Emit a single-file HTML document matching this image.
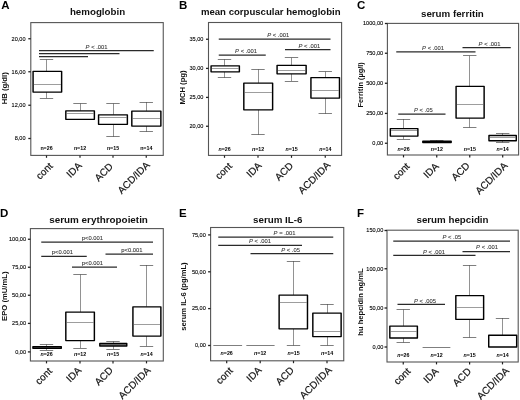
<!DOCTYPE html>
<html lang="en"><head><meta charset="utf-8"><title>Figure</title>
<style>
html,body{margin:0;padding:0;background:#fff;}
body{width:520px;height:400px;overflow:hidden;}
svg{display:block;font-family:'Liberation Sans', Arial, Helvetica, sans-serif;}
</style></head><body>
<svg width="520" height="400" viewBox="0 0 520 400" font-family="'Liberation Sans', Arial, Helvetica, sans-serif" style="filter:blur(0.3px)">
<rect x="0" y="0" width="520" height="400" fill="#fff"/>
<rect x="30.8" y="22.6" width="132.45" height="132.80" fill="none" stroke="#555" stroke-width="1.1"/>
<text x="1.2" y="8.9" font-size="11.5" font-weight="700" fill="#000">A</text>
<text x="97.5" y="14.5" font-size="9.75" font-weight="700" fill="#111" text-anchor="middle">hemoglobin</text>
<text transform="translate(7.4,88.3) rotate(-90)" font-size="7.7" font-weight="700" fill="#111" text-anchor="middle">HB (g/dl)</text>
<line x1="28.3" y1="38.75" x2="30.8" y2="38.75" stroke="#222" stroke-width="1.3"/>
<text x="25.50" y="40.55" font-size="5.55" fill="#000" stroke="#000" stroke-width="0.1" text-anchor="end">20,00</text>
<line x1="28.3" y1="71.75" x2="30.8" y2="71.75" stroke="#222" stroke-width="1.3"/>
<text x="25.50" y="73.55" font-size="5.55" fill="#000" stroke="#000" stroke-width="0.1" text-anchor="end">16,00</text>
<line x1="28.3" y1="105.25" x2="30.8" y2="105.25" stroke="#222" stroke-width="1.3"/>
<text x="25.50" y="107.05" font-size="5.55" fill="#000" stroke="#000" stroke-width="0.1" text-anchor="end">12,00</text>
<line x1="28.3" y1="138.5" x2="30.8" y2="138.5" stroke="#222" stroke-width="1.3"/>
<text x="25.50" y="140.30" font-size="5.55" fill="#000" stroke="#000" stroke-width="0.1" text-anchor="end">8,00</text>
<line x1="46.5" y1="155.4" x2="46.5" y2="157.8" stroke="#222" stroke-width="1.2"/>
<text transform="translate(53.40,166.70) rotate(-45)" font-size="10" fill="#111" stroke="#111" stroke-width="0.18" text-anchor="end">cont</text>
<line x1="80" y1="155.4" x2="80" y2="157.8" stroke="#222" stroke-width="1.2"/>
<text transform="translate(82.40,166.40) rotate(-45)" font-size="10" fill="#111" stroke="#111" stroke-width="0.18" text-anchor="end">IDA</text>
<line x1="113" y1="155.4" x2="113" y2="157.8" stroke="#222" stroke-width="1.2"/>
<text transform="translate(113.70,167.10) rotate(-45)" font-size="10" fill="#111" stroke="#111" stroke-width="0.18" text-anchor="end">ACD</text>
<line x1="146.25" y1="155.4" x2="146.25" y2="157.8" stroke="#222" stroke-width="1.2"/>
<text transform="translate(150.40,165.70) rotate(-45)" font-size="10" fill="#111" stroke="#111" stroke-width="0.18" text-anchor="end">ACD/IDA</text>
<text x="46.5" y="149.80" font-size="5.3" font-weight="700" fill="#000" text-anchor="middle">n=26</text>
<text x="80" y="149.80" font-size="5.3" font-weight="700" fill="#000" text-anchor="middle">n=12</text>
<text x="113" y="149.80" font-size="5.3" font-weight="700" fill="#000" text-anchor="middle">n=15</text>
<text x="146.25" y="149.80" font-size="5.3" font-weight="700" fill="#000" text-anchor="middle">n=14</text>
<line x1="46.5" y1="59.5" x2="46.5" y2="71.25" stroke="#484848" stroke-width="0.6"/>
<line x1="39.80" y1="59.5" x2="53.20" y2="59.5" stroke="#484848" stroke-width="0.7"/>
<line x1="46.5" y1="92" x2="46.5" y2="98.25" stroke="#484848" stroke-width="0.6"/>
<line x1="39.80" y1="98.5" x2="53.20" y2="98.5" stroke="#484848" stroke-width="0.7"/>
<rect x="33.08" y="71.35" width="28.55" height="20.75" fill="#fff" stroke="#000" stroke-width="1.45" stroke-linejoin="round"/>
<line x1="33.80" y1="84.5" x2="60.90" y2="84.5" stroke="#5a5a5a" stroke-width="0.6"/>
<line x1="80.5" y1="103.5" x2="80.5" y2="110.75" stroke="#484848" stroke-width="0.6"/>
<line x1="73.30" y1="103.5" x2="86.70" y2="103.5" stroke="#484848" stroke-width="0.7"/>
<rect x="65.82" y="110.85" width="28.55" height="8.50" fill="#fff" stroke="#000" stroke-width="1.45" stroke-linejoin="round"/>
<line x1="66.55" y1="113.5" x2="93.65" y2="113.5" stroke="#5a5a5a" stroke-width="0.6"/>
<line x1="113.5" y1="103.5" x2="113.5" y2="114.75" stroke="#484848" stroke-width="0.6"/>
<line x1="106.30" y1="103.5" x2="119.70" y2="103.5" stroke="#484848" stroke-width="0.7"/>
<line x1="113.5" y1="124.25" x2="113.5" y2="136.75" stroke="#484848" stroke-width="0.6"/>
<line x1="106.30" y1="136.5" x2="119.70" y2="136.5" stroke="#484848" stroke-width="0.7"/>
<rect x="98.57" y="114.85" width="28.80" height="9.50" fill="#fff" stroke="#000" stroke-width="1.45" stroke-linejoin="round"/>
<line x1="99.30" y1="117.5" x2="126.65" y2="117.5" stroke="#5a5a5a" stroke-width="0.6"/>
<line x1="146.5" y1="102" x2="146.5" y2="111" stroke="#484848" stroke-width="0.6"/>
<line x1="139.55" y1="102.5" x2="152.95" y2="102.5" stroke="#484848" stroke-width="0.7"/>
<line x1="146.5" y1="126" x2="146.5" y2="131.75" stroke="#484848" stroke-width="0.6"/>
<line x1="139.55" y1="131.5" x2="152.95" y2="131.5" stroke="#484848" stroke-width="0.7"/>
<rect x="131.82" y="111.10" width="29.05" height="15.00" fill="#fff" stroke="#000" stroke-width="1.45" stroke-linejoin="round"/>
<line x1="132.55" y1="118.5" x2="160.15" y2="118.5" stroke="#5a5a5a" stroke-width="0.6"/>
<line x1="39" y1="50.7" x2="153.75" y2="50.7" stroke="#2a2a2a" stroke-width="1.25"/>
<line x1="39" y1="53.6" x2="119.5" y2="53.6" stroke="#2a2a2a" stroke-width="1.25"/>
<line x1="39" y1="56.5" x2="88" y2="56.5" stroke="#2a2a2a" stroke-width="1.25"/>
<text x="96.6" y="49.40" font-size="5.85" fill="#333" stroke="#333" stroke-width="0.08" text-anchor="middle" style="white-space:pre"><tspan font-style="italic">P</tspan> &lt; .001</text>
<rect x="208.5" y="22.5" width="133.10" height="132.90" fill="none" stroke="#555" stroke-width="1.1"/>
<text x="179.05" y="8.8" font-size="11.5" font-weight="700" fill="#000">B</text>
<text x="270.75" y="14.5" font-size="9.6" font-weight="700" fill="#111" text-anchor="middle">mean corpuscular hemoglobin</text>
<text transform="translate(185.0,87.45) rotate(-90)" font-size="7.7" font-weight="700" fill="#111" text-anchor="middle">MCH (pg)</text>
<line x1="206.0" y1="39.25" x2="208.5" y2="39.25" stroke="#222" stroke-width="1.3"/>
<text x="203.40" y="41.05" font-size="5.55" fill="#000" stroke="#000" stroke-width="0.1" text-anchor="end">35,00</text>
<line x1="206.0" y1="68.4" x2="208.5" y2="68.4" stroke="#222" stroke-width="1.3"/>
<text x="203.40" y="70.20" font-size="5.55" fill="#000" stroke="#000" stroke-width="0.1" text-anchor="end">30,00</text>
<line x1="206.0" y1="97.4" x2="208.5" y2="97.4" stroke="#222" stroke-width="1.3"/>
<text x="203.40" y="99.20" font-size="5.55" fill="#000" stroke="#000" stroke-width="0.1" text-anchor="end">25,00</text>
<line x1="206.0" y1="126.25" x2="208.5" y2="126.25" stroke="#222" stroke-width="1.3"/>
<text x="203.40" y="128.05" font-size="5.55" fill="#000" stroke="#000" stroke-width="0.1" text-anchor="end">20,00</text>
<line x1="224.5" y1="155.4" x2="224.5" y2="157.8" stroke="#222" stroke-width="1.2"/>
<text transform="translate(232.60,166.75) rotate(-45)" font-size="10" fill="#111" stroke="#111" stroke-width="0.18" text-anchor="end">cont</text>
<line x1="258" y1="155.4" x2="258" y2="157.8" stroke="#222" stroke-width="1.2"/>
<text transform="translate(262.25,166.30) rotate(-45)" font-size="10" fill="#111" stroke="#111" stroke-width="0.18" text-anchor="end">IDA</text>
<line x1="291.5" y1="155.4" x2="291.5" y2="157.8" stroke="#222" stroke-width="1.2"/>
<text transform="translate(293.90,166.30) rotate(-45)" font-size="10" fill="#111" stroke="#111" stroke-width="0.18" text-anchor="end">ACD</text>
<line x1="325.25" y1="155.4" x2="325.25" y2="157.8" stroke="#222" stroke-width="1.2"/>
<text transform="translate(331.05,165.90) rotate(-45)" font-size="10" fill="#111" stroke="#111" stroke-width="0.18" text-anchor="end">ACD/IDA</text>
<text x="224.5" y="150.50" font-size="5.3" font-weight="700" fill="#000" text-anchor="middle"><tspan font-style="italic">n</tspan>=26</text>
<text x="258" y="150.50" font-size="5.3" font-weight="700" fill="#000" text-anchor="middle"><tspan font-style="italic">n</tspan>=12</text>
<text x="291.5" y="150.50" font-size="5.3" font-weight="700" fill="#000" text-anchor="middle"><tspan font-style="italic">n</tspan>=15</text>
<text x="325.25" y="150.50" font-size="5.3" font-weight="700" fill="#000" text-anchor="middle"><tspan font-style="italic">n</tspan>=14</text>
<line x1="224.5" y1="59.25" x2="224.5" y2="65.75" stroke="#484848" stroke-width="0.6"/>
<line x1="217.80" y1="59.5" x2="231.20" y2="59.5" stroke="#484848" stroke-width="0.7"/>
<line x1="224.5" y1="71.75" x2="224.5" y2="77.75" stroke="#484848" stroke-width="0.6"/>
<line x1="217.80" y1="77.5" x2="231.20" y2="77.5" stroke="#484848" stroke-width="0.7"/>
<rect x="211.07" y="65.85" width="28.30" height="6.00" fill="#fff" stroke="#000" stroke-width="1.45" stroke-linejoin="round"/>
<line x1="211.80" y1="68.5" x2="238.65" y2="68.5" stroke="#5a5a5a" stroke-width="0.6"/>
<line x1="258.5" y1="69.25" x2="258.5" y2="83" stroke="#484848" stroke-width="0.6"/>
<line x1="251.30" y1="69.5" x2="264.70" y2="69.5" stroke="#484848" stroke-width="0.7"/>
<line x1="258.5" y1="109.75" x2="258.5" y2="134.75" stroke="#484848" stroke-width="0.6"/>
<line x1="251.30" y1="134.5" x2="264.70" y2="134.5" stroke="#484848" stroke-width="0.7"/>
<rect x="243.82" y="83.10" width="28.80" height="26.75" fill="#fff" stroke="#000" stroke-width="1.45" stroke-linejoin="round"/>
<line x1="244.55" y1="92.5" x2="271.90" y2="92.5" stroke="#5a5a5a" stroke-width="0.6"/>
<line x1="291.5" y1="57.75" x2="291.5" y2="65.25" stroke="#484848" stroke-width="0.6"/>
<line x1="284.80" y1="57.5" x2="298.20" y2="57.5" stroke="#484848" stroke-width="0.7"/>
<line x1="291.5" y1="73.75" x2="291.5" y2="81" stroke="#484848" stroke-width="0.6"/>
<line x1="284.80" y1="81.5" x2="298.20" y2="81.5" stroke="#484848" stroke-width="0.7"/>
<rect x="277.08" y="65.35" width="29.05" height="8.50" fill="#fff" stroke="#000" stroke-width="1.45" stroke-linejoin="round"/>
<line x1="277.80" y1="70.5" x2="305.40" y2="70.5" stroke="#5a5a5a" stroke-width="0.6"/>
<line x1="325.5" y1="71.6" x2="325.5" y2="77.5" stroke="#484848" stroke-width="0.6"/>
<line x1="318.55" y1="71.5" x2="331.95" y2="71.5" stroke="#484848" stroke-width="0.7"/>
<line x1="325.5" y1="98" x2="325.5" y2="113.75" stroke="#484848" stroke-width="0.6"/>
<line x1="318.55" y1="113.5" x2="331.95" y2="113.5" stroke="#484848" stroke-width="0.7"/>
<rect x="310.93" y="77.60" width="28.55" height="20.50" fill="#fff" stroke="#000" stroke-width="1.45" stroke-linejoin="round"/>
<line x1="311.65" y1="90.5" x2="338.75" y2="90.5" stroke="#5a5a5a" stroke-width="0.6"/>
<line x1="218.75" y1="39" x2="330.5" y2="39" stroke="#2a2a2a" stroke-width="1.25"/>
<line x1="218.75" y1="55" x2="265.75" y2="55" stroke="#2a2a2a" stroke-width="1.25"/>
<line x1="285" y1="49.5" x2="330.5" y2="49.5" stroke="#2a2a2a" stroke-width="1.25"/>
<text x="278.25" y="37.15" font-size="5.85" fill="#333" stroke="#333" stroke-width="0.08" text-anchor="middle" style="white-space:pre"><tspan font-style="italic">P</tspan> &lt; .001</text>
<text x="246.1" y="53.40" font-size="5.85" fill="#333" stroke="#333" stroke-width="0.08" text-anchor="middle" style="white-space:pre"><tspan font-style="italic">P</tspan> &lt; .001</text>
<text x="309.4" y="47.90" font-size="5.85" fill="#333" stroke="#333" stroke-width="0.08" text-anchor="middle" style="white-space:pre"><tspan font-style="italic">P</tspan> &lt; .001</text>
<rect x="387.4" y="23.4" width="131.20" height="131.60" fill="none" stroke="#555" stroke-width="1.1"/>
<text x="357.0" y="9.0" font-size="11.5" font-weight="700" fill="#000">C</text>
<text x="452.4" y="16.6" font-size="9.75" font-weight="700" fill="#111" text-anchor="middle">serum ferritin</text>
<text transform="translate(362.9,84.85) rotate(-90)" font-size="7.4" font-weight="700" fill="#111" text-anchor="middle">Ferritin (µg/l)</text>
<line x1="384.9" y1="23.5" x2="387.4" y2="23.5" stroke="#222" stroke-width="1.3"/>
<text x="383.10" y="25.30" font-size="5.55" fill="#000" stroke="#000" stroke-width="0.1" text-anchor="end">1000,00</text>
<line x1="384.9" y1="53.25" x2="387.4" y2="53.25" stroke="#222" stroke-width="1.3"/>
<text x="383.10" y="55.05" font-size="5.55" fill="#000" stroke="#000" stroke-width="0.1" text-anchor="end">750,00</text>
<line x1="384.9" y1="83.25" x2="387.4" y2="83.25" stroke="#222" stroke-width="1.3"/>
<text x="383.10" y="85.05" font-size="5.55" fill="#000" stroke="#000" stroke-width="0.1" text-anchor="end">500,00</text>
<line x1="384.9" y1="113.4" x2="387.4" y2="113.4" stroke="#222" stroke-width="1.3"/>
<text x="383.10" y="115.20" font-size="5.55" fill="#000" stroke="#000" stroke-width="0.1" text-anchor="end">250,00</text>
<line x1="384.9" y1="143.25" x2="387.4" y2="143.25" stroke="#222" stroke-width="1.3"/>
<text x="383.10" y="145.05" font-size="5.55" fill="#000" stroke="#000" stroke-width="0.1" text-anchor="end">0,00</text>
<line x1="403.5" y1="155" x2="403.5" y2="157.4" stroke="#222" stroke-width="1.2"/>
<text transform="translate(410.30,166.95) rotate(-45)" font-size="10" fill="#111" stroke="#111" stroke-width="0.18" text-anchor="end">cont</text>
<line x1="436.75" y1="155" x2="436.75" y2="157.4" stroke="#222" stroke-width="1.2"/>
<text transform="translate(439.35,166.95) rotate(-45)" font-size="10" fill="#111" stroke="#111" stroke-width="0.18" text-anchor="end">IDA</text>
<line x1="469.75" y1="155" x2="469.75" y2="157.4" stroke="#222" stroke-width="1.2"/>
<text transform="translate(470.35,166.40) rotate(-45)" font-size="10" fill="#111" stroke="#111" stroke-width="0.18" text-anchor="end">ACD</text>
<line x1="502.7" y1="155" x2="502.7" y2="157.4" stroke="#222" stroke-width="1.2"/>
<text transform="translate(508.10,166.40) rotate(-45)" font-size="10" fill="#111" stroke="#111" stroke-width="0.18" text-anchor="end">ACD/IDA</text>
<text x="403.5" y="150.55" font-size="5.3" font-weight="700" fill="#000" text-anchor="middle"><tspan font-style="italic">n</tspan>=26</text>
<text x="436.75" y="150.55" font-size="5.3" font-weight="700" fill="#000" text-anchor="middle"><tspan font-style="italic">n</tspan>=12</text>
<text x="469.75" y="150.55" font-size="5.3" font-weight="700" fill="#000" text-anchor="middle"><tspan font-style="italic">n</tspan>=15</text>
<text x="502.7" y="150.55" font-size="5.3" font-weight="700" fill="#000" text-anchor="middle"><tspan font-style="italic">n</tspan>=14</text>
<line x1="403.5" y1="119" x2="403.5" y2="128.5" stroke="#484848" stroke-width="0.6"/>
<line x1="396.80" y1="119.5" x2="410.20" y2="119.5" stroke="#484848" stroke-width="0.7"/>
<line x1="403.5" y1="136" x2="403.5" y2="139.25" stroke="#484848" stroke-width="0.6"/>
<line x1="396.80" y1="139.5" x2="410.20" y2="139.5" stroke="#484848" stroke-width="0.7"/>
<rect x="390.33" y="128.60" width="27.55" height="7.50" fill="#fff" stroke="#000" stroke-width="1.45" stroke-linejoin="round"/>
<line x1="391.05" y1="130.5" x2="417.15" y2="130.5" stroke="#5a5a5a" stroke-width="0.6"/>
<line x1="436.5" y1="140.25" x2="436.5" y2="141.2" stroke="#484848" stroke-width="0.6"/>
<line x1="430.05" y1="140.5" x2="443.45" y2="140.5" stroke="#484848" stroke-width="0.7"/>
<rect x="422.83" y="141.30" width="28.30" height="1.20" fill="#9a9a9a" stroke="#000" stroke-width="1.45" stroke-linejoin="round"/>
<line x1="469.5" y1="55.75" x2="469.5" y2="86.25" stroke="#484848" stroke-width="0.6"/>
<line x1="463.05" y1="55.5" x2="476.45" y2="55.5" stroke="#484848" stroke-width="0.7"/>
<line x1="469.5" y1="118" x2="469.5" y2="127.5" stroke="#484848" stroke-width="0.6"/>
<line x1="463.05" y1="127.5" x2="476.45" y2="127.5" stroke="#484848" stroke-width="0.7"/>
<rect x="456.08" y="86.35" width="28.05" height="31.75" fill="#fff" stroke="#000" stroke-width="1.45" stroke-linejoin="round"/>
<line x1="456.80" y1="104.5" x2="483.40" y2="104.5" stroke="#5a5a5a" stroke-width="0.6"/>
<line x1="502.5" y1="133.2" x2="502.5" y2="135.3" stroke="#484848" stroke-width="0.6"/>
<line x1="496.00" y1="133.5" x2="509.40" y2="133.5" stroke="#484848" stroke-width="0.7"/>
<line x1="502.5" y1="140.7" x2="502.5" y2="142.4" stroke="#484848" stroke-width="0.6"/>
<line x1="496.00" y1="142.5" x2="509.40" y2="142.5" stroke="#484848" stroke-width="0.7"/>
<rect x="488.98" y="135.40" width="27.30" height="5.40" fill="#fff" stroke="#000" stroke-width="1.45" stroke-linejoin="round"/>
<line x1="489.70" y1="137.5" x2="515.55" y2="137.5" stroke="#5a5a5a" stroke-width="0.6"/>
<line x1="396.25" y1="51.75" x2="475.5" y2="51.75" stroke="#2a2a2a" stroke-width="1.25"/>
<line x1="462.5" y1="47.5" x2="510.75" y2="47.5" stroke="#2a2a2a" stroke-width="1.25"/>
<line x1="398.25" y1="114" x2="445.5" y2="114" stroke="#2a2a2a" stroke-width="1.25"/>
<text x="433.1" y="50.15" font-size="5.85" fill="#333" stroke="#333" stroke-width="0.08" text-anchor="middle" style="white-space:pre"><tspan font-style="italic">P</tspan> &lt; .001</text>
<text x="489.6" y="45.90" font-size="5.85" fill="#333" stroke="#333" stroke-width="0.08" text-anchor="middle" style="white-space:pre"><tspan font-style="italic">P</tspan> &lt; .001</text>
<text x="423.4" y="112.15" font-size="5.85" fill="#333" stroke="#333" stroke-width="0.08" text-anchor="middle" style="white-space:pre"><tspan font-style="italic">P</tspan> &lt; .05</text>
<rect x="30.4" y="228.6" width="132.90" height="132.40" fill="none" stroke="#555" stroke-width="1.1"/>
<text x="0.1" y="216.5" font-size="11.5" font-weight="700" fill="#000">D</text>
<text x="98.6" y="222.5" font-size="9.87" font-weight="700" fill="#111" text-anchor="middle">serum erythropoietin</text>
<text transform="translate(7.4,296.2) rotate(-90)" font-size="7.7" font-weight="700" fill="#111" text-anchor="middle">EPO (mU/mL)</text>
<line x1="27.9" y1="239.25" x2="30.4" y2="239.25" stroke="#222" stroke-width="1.3"/>
<text x="26.00" y="241.05" font-size="5.55" fill="#000" stroke="#000" stroke-width="0.1" text-anchor="end">100,00</text>
<line x1="27.9" y1="267.25" x2="30.4" y2="267.25" stroke="#222" stroke-width="1.3"/>
<text x="26.00" y="269.05" font-size="5.55" fill="#000" stroke="#000" stroke-width="0.1" text-anchor="end">75,00</text>
<line x1="27.9" y1="295.25" x2="30.4" y2="295.25" stroke="#222" stroke-width="1.3"/>
<text x="26.00" y="297.05" font-size="5.55" fill="#000" stroke="#000" stroke-width="0.1" text-anchor="end">50,00</text>
<line x1="27.9" y1="323.4" x2="30.4" y2="323.4" stroke="#222" stroke-width="1.3"/>
<text x="26.00" y="325.20" font-size="5.55" fill="#000" stroke="#000" stroke-width="0.1" text-anchor="end">25,00</text>
<line x1="27.9" y1="351.9" x2="30.4" y2="351.9" stroke="#222" stroke-width="1.3"/>
<text x="26.00" y="353.70" font-size="5.55" fill="#000" stroke="#000" stroke-width="0.1" text-anchor="end">0,00</text>
<line x1="46.5" y1="361" x2="46.5" y2="363.4" stroke="#222" stroke-width="1.2"/>
<text transform="translate(52.70,371.80) rotate(-45)" font-size="10" fill="#111" stroke="#111" stroke-width="0.18" text-anchor="end">cont</text>
<line x1="80" y1="361" x2="80" y2="363.4" stroke="#222" stroke-width="1.2"/>
<text transform="translate(82.00,371.00) rotate(-45)" font-size="10" fill="#111" stroke="#111" stroke-width="0.18" text-anchor="end">IDA</text>
<line x1="113" y1="361" x2="113" y2="363.4" stroke="#222" stroke-width="1.2"/>
<text transform="translate(113.60,371.00) rotate(-45)" font-size="10" fill="#111" stroke="#111" stroke-width="0.18" text-anchor="end">ACD</text>
<line x1="146.5" y1="361" x2="146.5" y2="363.4" stroke="#222" stroke-width="1.2"/>
<text transform="translate(151.30,371.00) rotate(-45)" font-size="10" fill="#111" stroke="#111" stroke-width="0.18" text-anchor="end">ACD/IDA</text>
<text x="46.5" y="356.00" font-size="5.3" font-weight="700" fill="#000" text-anchor="middle"><tspan font-style="italic">n</tspan>=26</text>
<text x="80" y="356.00" font-size="5.3" font-weight="700" fill="#000" text-anchor="middle"><tspan font-style="italic">n</tspan>=12</text>
<text x="113" y="356.00" font-size="5.3" font-weight="700" fill="#000" text-anchor="middle"><tspan font-style="italic">n</tspan>=15</text>
<text x="146.5" y="356.00" font-size="5.3" font-weight="700" fill="#000" text-anchor="middle"><tspan font-style="italic">n</tspan>=14</text>
<line x1="46.5" y1="344.3" x2="46.5" y2="346.5" stroke="#484848" stroke-width="0.6"/>
<line x1="39.80" y1="344.5" x2="53.20" y2="344.5" stroke="#484848" stroke-width="0.7"/>
<line x1="46.5" y1="348.2" x2="46.5" y2="350.1" stroke="#484848" stroke-width="0.6"/>
<line x1="39.80" y1="350.5" x2="53.20" y2="350.5" stroke="#484848" stroke-width="0.7"/>
<rect x="32.93" y="346.60" width="28.35" height="1.70" fill="#9a9a9a" stroke="#000" stroke-width="1.45" stroke-linejoin="round"/>
<line x1="80.5" y1="274.5" x2="80.5" y2="312" stroke="#484848" stroke-width="0.6"/>
<line x1="73.30" y1="274.5" x2="86.70" y2="274.5" stroke="#484848" stroke-width="0.7"/>
<line x1="80.5" y1="340.5" x2="80.5" y2="348" stroke="#484848" stroke-width="0.6"/>
<line x1="73.30" y1="348.5" x2="86.70" y2="348.5" stroke="#484848" stroke-width="0.7"/>
<rect x="65.82" y="312.10" width="28.55" height="28.50" fill="#fff" stroke="#000" stroke-width="1.45" stroke-linejoin="round"/>
<line x1="66.55" y1="322.5" x2="93.65" y2="322.5" stroke="#5a5a5a" stroke-width="0.6"/>
<line x1="113.5" y1="341.3" x2="113.5" y2="343.4" stroke="#484848" stroke-width="0.6"/>
<line x1="106.30" y1="341.5" x2="119.70" y2="341.5" stroke="#484848" stroke-width="0.7"/>
<line x1="113.5" y1="345.8" x2="113.5" y2="349.2" stroke="#484848" stroke-width="0.6"/>
<line x1="106.30" y1="349.5" x2="119.70" y2="349.5" stroke="#484848" stroke-width="0.7"/>
<rect x="99.82" y="343.50" width="26.95" height="2.40" fill="#9a9a9a" stroke="#000" stroke-width="1.45" stroke-linejoin="round"/>
<line x1="100.55" y1="344.5" x2="126.05" y2="344.5" stroke="#5a5a5a" stroke-width="0.6"/>
<line x1="146.5" y1="265" x2="146.5" y2="306.75" stroke="#484848" stroke-width="0.6"/>
<line x1="139.80" y1="265.5" x2="153.20" y2="265.5" stroke="#484848" stroke-width="0.7"/>
<line x1="146.5" y1="336" x2="146.5" y2="346.25" stroke="#484848" stroke-width="0.6"/>
<line x1="139.80" y1="346.5" x2="153.20" y2="346.5" stroke="#484848" stroke-width="0.7"/>
<rect x="132.92" y="306.85" width="27.95" height="29.25" fill="#fff" stroke="#000" stroke-width="1.45" stroke-linejoin="round"/>
<line x1="133.65" y1="324.5" x2="160.15" y2="324.5" stroke="#5a5a5a" stroke-width="0.6"/>
<line x1="41.25" y1="242.0" x2="153" y2="242.0" stroke="#2a2a2a" stroke-width="1.25"/>
<line x1="41.25" y1="256.25" x2="86.75" y2="256.25" stroke="#2a2a2a" stroke-width="1.25"/>
<line x1="72" y1="267" x2="117" y2="267" stroke="#2a2a2a" stroke-width="1.25"/>
<line x1="105.5" y1="254" x2="153" y2="254" stroke="#2a2a2a" stroke-width="1.25"/>
<text x="92.4" y="239.90" font-size="5.85" fill="#333" stroke="#333" stroke-width="0.08" text-anchor="middle" style="white-space:pre">p&lt;0.001</text>
<text x="62.4" y="254.15" font-size="5.85" fill="#333" stroke="#333" stroke-width="0.08" text-anchor="middle" style="white-space:pre">p&lt;0.001</text>
<text x="92.4" y="264.90" font-size="5.85" fill="#333" stroke="#333" stroke-width="0.08" text-anchor="middle" style="white-space:pre">p&lt;0.001</text>
<text x="131.9" y="252.40" font-size="5.85" fill="#333" stroke="#333" stroke-width="0.08" text-anchor="middle" style="white-space:pre">p&lt;0.001</text>
<rect x="210.6" y="227.5" width="133.15" height="133.30" fill="none" stroke="#555" stroke-width="1.1"/>
<text x="179.05" y="216.6" font-size="11.5" font-weight="700" fill="#000">E</text>
<text x="277.75" y="222.5" font-size="9.75" font-weight="700" fill="#111" text-anchor="middle">serum IL-6</text>
<text transform="translate(185.8,296.6) rotate(-90)" font-size="7.6" font-weight="700" fill="#111" text-anchor="middle">serum IL-6 (pg/mL)</text>
<line x1="208.1" y1="234.9" x2="210.6" y2="234.9" stroke="#222" stroke-width="1.3"/>
<text x="205.80" y="236.70" font-size="5.55" fill="#000" stroke="#000" stroke-width="0.1" text-anchor="end">75,00</text>
<line x1="208.1" y1="271.8" x2="210.6" y2="271.8" stroke="#222" stroke-width="1.3"/>
<text x="205.80" y="273.60" font-size="5.55" fill="#000" stroke="#000" stroke-width="0.1" text-anchor="end">50,00</text>
<line x1="208.1" y1="308.6" x2="210.6" y2="308.6" stroke="#222" stroke-width="1.3"/>
<text x="205.80" y="310.40" font-size="5.55" fill="#000" stroke="#000" stroke-width="0.1" text-anchor="end">25,00</text>
<line x1="208.1" y1="345.5" x2="210.6" y2="345.5" stroke="#222" stroke-width="1.3"/>
<text x="205.80" y="347.30" font-size="5.55" fill="#000" stroke="#000" stroke-width="0.1" text-anchor="end">0,00</text>
<line x1="226.7" y1="360.8" x2="226.7" y2="363.2" stroke="#222" stroke-width="1.2"/>
<text transform="translate(233.40,371.40) rotate(-45)" font-size="10" fill="#111" stroke="#111" stroke-width="0.18" text-anchor="end">cont</text>
<line x1="260.2" y1="360.8" x2="260.2" y2="363.2" stroke="#222" stroke-width="1.2"/>
<text transform="translate(262.20,370.80) rotate(-45)" font-size="10" fill="#111" stroke="#111" stroke-width="0.18" text-anchor="end">IDA</text>
<line x1="293.5" y1="360.8" x2="293.5" y2="363.2" stroke="#222" stroke-width="1.2"/>
<text transform="translate(294.70,370.80) rotate(-45)" font-size="10" fill="#111" stroke="#111" stroke-width="0.18" text-anchor="end">ACD</text>
<line x1="327" y1="360.8" x2="327" y2="363.2" stroke="#222" stroke-width="1.2"/>
<text transform="translate(332.40,370.80) rotate(-45)" font-size="10" fill="#111" stroke="#111" stroke-width="0.18" text-anchor="end">ACD/IDA</text>
<text x="226.7" y="355.40" font-size="5.3" font-weight="700" fill="#000" text-anchor="middle"><tspan font-style="italic">n</tspan>=26</text>
<text x="260.2" y="355.40" font-size="5.3" font-weight="700" fill="#000" text-anchor="middle"><tspan font-style="italic">n</tspan>=12</text>
<text x="293.5" y="355.40" font-size="5.3" font-weight="700" fill="#000" text-anchor="middle"><tspan font-style="italic">n</tspan>=15</text>
<text x="327" y="355.40" font-size="5.3" font-weight="700" fill="#000" text-anchor="middle"><tspan font-style="italic">n</tspan>=14</text>
<line x1="213.35" y1="345.5" x2="242.10" y2="345.5" stroke="#484848" stroke-width="0.7"/>
<line x1="246.35" y1="345.5" x2="274.60" y2="345.5" stroke="#484848" stroke-width="0.7"/>
<line x1="293.5" y1="261" x2="293.5" y2="295" stroke="#484848" stroke-width="0.6"/>
<line x1="286.80" y1="261.5" x2="300.20" y2="261.5" stroke="#484848" stroke-width="0.7"/>
<line x1="293.5" y1="328.75" x2="293.5" y2="345.5" stroke="#484848" stroke-width="0.6"/>
<line x1="286.80" y1="345.5" x2="300.20" y2="345.5" stroke="#484848" stroke-width="0.7"/>
<rect x="279.13" y="295.10" width="28.35" height="33.75" fill="#fff" stroke="#000" stroke-width="1.45" stroke-linejoin="round"/>
<line x1="279.85" y1="302.5" x2="306.75" y2="302.5" stroke="#5a5a5a" stroke-width="0.6"/>
<line x1="327.5" y1="304" x2="327.5" y2="313" stroke="#484848" stroke-width="0.6"/>
<line x1="320.30" y1="304.5" x2="333.70" y2="304.5" stroke="#484848" stroke-width="0.7"/>
<line x1="327.5" y1="336.5" x2="327.5" y2="345.5" stroke="#484848" stroke-width="0.6"/>
<line x1="320.30" y1="345.5" x2="333.70" y2="345.5" stroke="#484848" stroke-width="0.7"/>
<rect x="312.83" y="313.10" width="28.30" height="23.50" fill="#fff" stroke="#000" stroke-width="1.45" stroke-linejoin="round"/>
<line x1="313.55" y1="331.5" x2="340.40" y2="331.5" stroke="#5a5a5a" stroke-width="0.6"/>
<line x1="218.25" y1="237" x2="333.25" y2="237" stroke="#2a2a2a" stroke-width="1.25"/>
<line x1="218.25" y1="245.25" x2="302" y2="245.25" stroke="#2a2a2a" stroke-width="1.25"/>
<line x1="250.5" y1="253.5" x2="333.25" y2="253.5" stroke="#2a2a2a" stroke-width="1.25"/>
<text x="284.6" y="234.90" font-size="5.85" fill="#333" stroke="#333" stroke-width="0.08" text-anchor="middle" style="white-space:pre"><tspan font-style="italic">P</tspan> = .001</text>
<text x="260" y="243.40" font-size="5.85" fill="#333" stroke="#333" stroke-width="0.08" text-anchor="middle" style="white-space:pre"><tspan font-style="italic">P</tspan> &lt; .001</text>
<text x="290.6" y="251.90" font-size="5.85" fill="#333" stroke="#333" stroke-width="0.08" text-anchor="middle" style="white-space:pre"><tspan font-style="italic">P</tspan> &lt; .05</text>
<rect x="387" y="230.2" width="131.20" height="131.80" fill="none" stroke="#555" stroke-width="1.1"/>
<text x="357.1" y="216.5" font-size="11.5" font-weight="700" fill="#000">F</text>
<text x="452.5" y="222.5" font-size="9.75" font-weight="700" fill="#111" text-anchor="middle">serum hepcidin</text>
<text transform="translate(362.6,302) rotate(-90)" font-size="7.6" font-weight="700" fill="#111" text-anchor="middle">hu hepcidin ng/mL</text>
<line x1="384.5" y1="230.5" x2="387" y2="230.5" stroke="#222" stroke-width="1.3"/>
<text x="383.30" y="232.30" font-size="5.55" fill="#000" stroke="#000" stroke-width="0.1" text-anchor="end">150,00</text>
<line x1="384.5" y1="268.75" x2="387" y2="268.75" stroke="#222" stroke-width="1.3"/>
<text x="383.30" y="270.55" font-size="5.55" fill="#000" stroke="#000" stroke-width="0.1" text-anchor="end">100,00</text>
<line x1="384.5" y1="308" x2="387" y2="308" stroke="#222" stroke-width="1.3"/>
<text x="383.30" y="309.80" font-size="5.55" fill="#000" stroke="#000" stroke-width="0.1" text-anchor="end">50,00</text>
<line x1="384.5" y1="347" x2="387" y2="347" stroke="#222" stroke-width="1.3"/>
<text x="383.30" y="348.80" font-size="5.55" fill="#000" stroke="#000" stroke-width="0.1" text-anchor="end">0,00</text>
<line x1="403.25" y1="362" x2="403.25" y2="364.4" stroke="#222" stroke-width="1.2"/>
<text transform="translate(411.10,372.00) rotate(-45)" font-size="10" fill="#111" stroke="#111" stroke-width="0.18" text-anchor="end">cont</text>
<line x1="436.5" y1="362" x2="436.5" y2="364.4" stroke="#222" stroke-width="1.2"/>
<text transform="translate(439.30,372.00) rotate(-45)" font-size="10" fill="#111" stroke="#111" stroke-width="0.18" text-anchor="end">IDA</text>
<line x1="469.6" y1="362" x2="469.6" y2="364.4" stroke="#222" stroke-width="1.2"/>
<text transform="translate(471.80,372.00) rotate(-45)" font-size="10" fill="#111" stroke="#111" stroke-width="0.18" text-anchor="end">ACD</text>
<line x1="502.5" y1="362" x2="502.5" y2="364.4" stroke="#222" stroke-width="1.2"/>
<text transform="translate(509.70,371.50) rotate(-45)" font-size="10" fill="#111" stroke="#111" stroke-width="0.18" text-anchor="end">ACD/IDA</text>
<text x="403.25" y="357.20" font-size="5.3" font-weight="700" fill="#000" text-anchor="middle"><tspan font-style="italic">n</tspan>=26</text>
<text x="436.5" y="357.20" font-size="5.3" font-weight="700" fill="#000" text-anchor="middle"><tspan font-style="italic">n</tspan>=12</text>
<text x="469.6" y="357.20" font-size="5.3" font-weight="700" fill="#000" text-anchor="middle"><tspan font-style="italic">n</tspan>=15</text>
<text x="502.5" y="357.20" font-size="5.3" font-weight="700" fill="#000" text-anchor="middle"><tspan font-style="italic">n</tspan>=14</text>
<line x1="403.5" y1="309.5" x2="403.5" y2="326" stroke="#484848" stroke-width="0.6"/>
<line x1="396.55" y1="309.5" x2="409.95" y2="309.5" stroke="#484848" stroke-width="0.7"/>
<line x1="403.5" y1="337.8" x2="403.5" y2="342.5" stroke="#484848" stroke-width="0.6"/>
<line x1="396.55" y1="342.5" x2="409.95" y2="342.5" stroke="#484848" stroke-width="0.7"/>
<rect x="389.83" y="326.10" width="27.55" height="11.80" fill="#fff" stroke="#000" stroke-width="1.45" stroke-linejoin="round"/>
<line x1="390.55" y1="331.5" x2="416.65" y2="331.5" stroke="#5a5a5a" stroke-width="0.6"/>
<line x1="422.60" y1="347.5" x2="450.35" y2="347.5" stroke="#484848" stroke-width="0.7"/>
<line x1="469.5" y1="265.25" x2="469.5" y2="295.5" stroke="#484848" stroke-width="0.6"/>
<line x1="462.90" y1="265.5" x2="476.30" y2="265.5" stroke="#484848" stroke-width="0.7"/>
<line x1="469.5" y1="319.25" x2="469.5" y2="337.5" stroke="#484848" stroke-width="0.6"/>
<line x1="462.90" y1="337.5" x2="476.30" y2="337.5" stroke="#484848" stroke-width="0.7"/>
<rect x="455.83" y="295.60" width="27.80" height="23.75" fill="#fff" stroke="#000" stroke-width="1.45" stroke-linejoin="round"/>
<line x1="456.55" y1="307.5" x2="482.90" y2="307.5" stroke="#5a5a5a" stroke-width="0.6"/>
<line x1="502.5" y1="318" x2="502.5" y2="335.1" stroke="#484848" stroke-width="0.6"/>
<line x1="495.80" y1="318.5" x2="509.20" y2="318.5" stroke="#484848" stroke-width="0.7"/>
<rect x="488.73" y="335.20" width="27.95" height="11.80" fill="#fff" stroke="#000" stroke-width="1.45" stroke-linejoin="round"/>
<line x1="393.25" y1="241" x2="510" y2="241" stroke="#2a2a2a" stroke-width="1.25"/>
<line x1="393.25" y1="255.25" x2="475.5" y2="255.25" stroke="#2a2a2a" stroke-width="1.25"/>
<line x1="462.5" y1="251.5" x2="510" y2="251.5" stroke="#2a2a2a" stroke-width="1.25"/>
<line x1="397.5" y1="304.25" x2="445" y2="304.25" stroke="#2a2a2a" stroke-width="1.25"/>
<text x="451.9" y="239.15" font-size="5.85" fill="#333" stroke="#333" stroke-width="0.08" text-anchor="middle" style="white-space:pre"><tspan font-style="italic">P</tspan> &lt; .05</text>
<text x="434" y="253.65" font-size="5.85" fill="#333" stroke="#333" stroke-width="0.08" text-anchor="middle" style="white-space:pre"><tspan font-style="italic">P</tspan> &lt; .001</text>
<text x="487.1" y="249.40" font-size="5.85" fill="#333" stroke="#333" stroke-width="0.08" text-anchor="middle" style="white-space:pre"><tspan font-style="italic">P</tspan> &lt; .001</text>
<text x="425" y="302.90" font-size="5.85" fill="#333" stroke="#333" stroke-width="0.08" text-anchor="middle" style="white-space:pre"><tspan font-style="italic">P</tspan> &lt; .005</text>
</svg>
</body></html>
